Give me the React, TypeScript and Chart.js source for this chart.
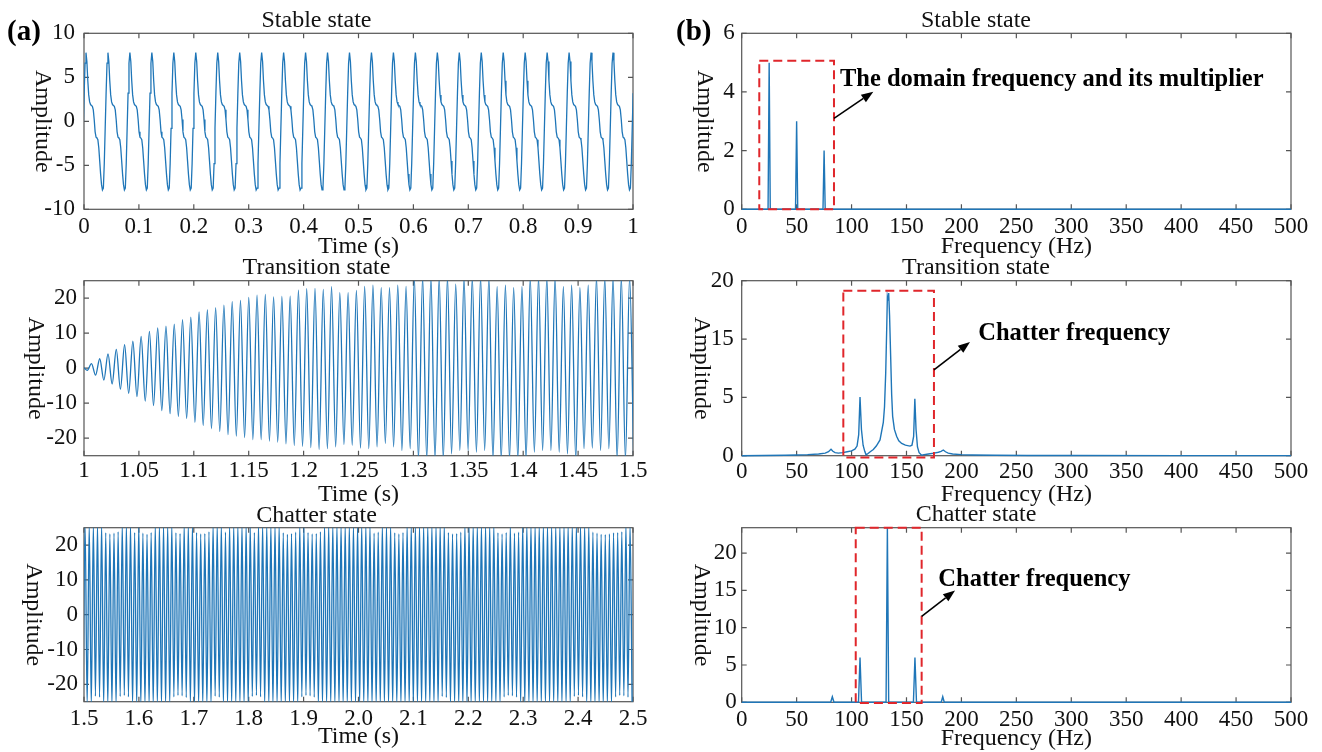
import React, { useEffect, useRef } from "react";
import { Chart, registerables } from "chart.js";

Chart.register(...registerables);

const FONT = "'Liberation Serif', 'Times New Roman', serif";
const LINE_COLOR = "#1f76b8";
const FRAME_COLOR = "#555555";
const BOX_COLOR = "#e0262b";
const TEXT_COLOR = "#111111";

// ---------------- (a) Stable state, time domain ----------------
const stablePeriod = 0.04; // s
const stableFirstPeak = 0.0036; // s
// one period of the signal (24 samples, starting at a peak)
const stableCycle = [
  7.8, 6.8, 4.6, 3.0, 2.2, 1.9, 1.8, 1.7, 1.3, 0.2, -1.2, -1.8,
  -1.9, -2.1, -3.0, -4.5, -6.0, -7.2, -7.8, -7.6, -4.8, -0.8, 3.2, 6.6,
];
const stableTimeTicks = [0, 0.1, 0.2, 0.3, 0.4, 0.5, 0.6, 0.7, 0.8, 0.9, 1];
const stableTimeLabels = ["0", "0.1", "0.2", "0.3", "0.4", "0.5", "0.6", "0.7", "0.8", "0.9", "1"];
const stableAmpTicks = [-10, -5, 0, 5, 10];
const stableAmpLabels = ["-10", "-5", "0", "5", "10"];

// ---------------- (a) Transition state, time domain ----------------
const transitionStart = { t: 1.0, v: 0.1 };
const transitionPeriod = 0.00754;
const transitionFirstTrough = 1.003;
const transitionFirstPeak = 1.0068;
const transitionPeaks = [
  1.3, 2.7, 4.1, 5.4, 6.7, 7.7, 9.1, 10.5, 11.5, 12.0, 12.6, 13.9, 14.6, 16.1, 16.7,
  17.3, 18.0, 19.0, 19.4, 20.2, 20.9, 21.1, 20.4, 20.5, 20.6, 22.3, 22.7, 22.8, 22.5,
  23.3, 21.6, 21.6, 22.2, 23.4, 23.7, 23.0, 23.0, 23.7, 23.4,
  26, 26, 26, 26, 26, 24.0, 26, 26, 26, 26,
  23.3, 23.7, 23.0, 23.3, 26, 26, 26, 26,
  23.3, 23.7, 23.0, 23.7, 26, 26, 26, 26, 26,
];
const transitionTroughs = [
  -0.6, -2.0, -3.4, -4.5, -6.0, -7.2, -8.1, -9.4, -10.7, -12.1, -13.0, -13.8, -14.4, -15.5,
  -16.4, -17.3, -18.1, -19.0, -19.4, -19.8, -20.4, -20.4, -20.8, -21.1, -21.6, -22.1, -22.3,
  -22.7, -23.2, -23.0,
  -22.5, -21.8, -22.0, -22.8, -23.0, -22.5, -21.5, -22.5, -23.5, -23.0,
  -26, -26, -26, -26, -24.5, -23.5, -23.5, -24.0, -23.5,
  -26, -26, -26, -26, -26, -24.0, -23.5, -23.5, -24.0, -24.5,
  -26, -23.0, -22.8, -23.5, -23.0, -26, -26,
  -26,
];
const transitionTimeTicks = [1, 1.05, 1.1, 1.15, 1.2, 1.25, 1.3, 1.35, 1.4, 1.45, 1.5];
const transitionTimeLabels = ["1", "1.05", "1.1", "1.15", "1.2", "1.25", "1.3", "1.35", "1.4", "1.45", "1.5"];
const bigAmpTicks = [-20, -10, 0, 10, 20];
const bigAmpLabels = ["-20", "-10", "0", "10", "20"];

// ---------------- (a) Chatter state, time domain ----------------
const chatterLead = { t: 1.4982, v: -26 };
const chatterPeriod = 0.00752;
const chatterFirstPeak = 1.502;
const chatterPeaks = [
  26, 26, 26, 26, 26,
  23.5, 23.2, 23.4, 23.8,
  26, 26, 26,
  23.6,
  26,
  23.4, 23.1, 23.6,
  26, 26, 26, 26, 26,
  23.5, 23.3,
  26, 26, 26,
  23.6, 23.2, 23.3, 23.8,
  26, 26, 26,
  23.7,
  26, 26, 26, 26, 26, 26,
  23.6,
  26, 26, 26, 26, 26, 26,
  23.5, 23.1, 23.3, 23.7,
  26, 26,
  23.6, 23.2, 23.3, 23.8,
  26, 26, 26, 26, 26, 26, 26, 26, 26, 26, 26, 26,
  23.4, 23.7,
  26, 26, 26,
  23.5, 23.2, 23.6,
  26, 26, 26, 26, 26, 26, 26, 26, 26, 26,
  23.6, 23.2, 23.3, 23.7,
  26, 26, 26, 26, 26, 26, 26, 26,
  23.5, 23.2, 23.6,
  26,
  23.4, 23.7,
  26, 26, 26, 26, 26, 26, 26, 26, 26, 26, 26, 26, 26, 26, 26, 26, 26,
  23.7, 23.4, 23.1, 23.0, 23.2, 23.5, 23.6, 23.8,
  26, 26,
];
const chatterTroughs = [
  -26, -26,
  -23.4, -23.7,
  -26, -26, -26, -26,
  -23.5, -23.2, -23.6,
  -26, -26, -26, -26, -26, -26, -26, -26, -26, -26,
  -23.6, -23.2, -23.3, -23.8,
  -26, -26, -26, -26, -26, -26,
  -23.4, -23.7,
  -26, -26, -26, -26, -26, -26, -26,
  -23.5, -23.2, -23.6,
  -26, -26, -26, -26, -26, -26, -26, -26, -26,
  -23.6, -23.2, -23.3, -23.7,
  -26, -26, -26, -26, -26, -26, -26, -26, -26, -26,
  -26, -26, -26, -26, -26, -26, -26, -26, -26, -26,
  -26, -26, -26, -26, -26, -26, -26, -26, -26, -26,
  -23.5, -23.8,
  -26, -26, -26, -26, -26, -26, -26, -26, -26, -26, -26, -26, -26,
  -23.6, -23.2, -23.3, -23.7,
  -26, -26, -26, -26, -26, -26, -26, -26, -26, -26, -26, -26, -26,
  -23.5, -23.2, -23.6,
  -26, -26, -26, -26, -26, -26, -26,
  -23.6, -23.2, -23.3, -23.7,
  -26,
];
const chatterTimeTicks = [1.5, 1.6, 1.7, 1.8, 1.9, 2.0, 2.1, 2.2, 2.3, 2.4, 2.5];
const chatterTimeLabels = ["1.5", "1.6", "1.7", "1.8", "1.9", "2.0", "2.1", "2.2", "2.3", "2.4", "2.5"];

// ---------------- (b) Spectra ----------------
const freqTicks = [0, 50, 100, 150, 200, 250, 300, 350, 400, 450, 500];
const freqLabels = ["0", "50", "100", "150", "200", "250", "300", "350", "400", "450", "500"];

const stableFreq = [0, 24, 25, 26, 49, 50, 51, 74, 75, 76, 500];
const stableAmp = [0, 0, 5.0, 0, 0, 3.0, 0, 0, 2.0, 0, 0];
const stableSpecTicks = [0, 2, 4, 6];
const stableSpecLabels = ["0", "2", "4", "6"];

const transFreq = [
  0, 20, 40, 50, 60, 70, 76, 79, 81.3, 83, 85, 88, 92, 96, 100, 103, 105, 106.5, 107.7, 109,
  110.5, 112, 113.2, 115, 117, 119.8, 122.5, 125.9, 128.9, 130, 131.1, 132.1, 132.6, 133.2,
  133.8, 134.6, 135.6, 136.5, 137.4, 139, 141.1, 143, 145.6, 149, 153.2, 155, 156.5, 157.6,
  158.7, 160, 161.5, 163.8, 166, 170, 175, 179, 181.5, 183.5, 185.5, 188, 192, 200, 210, 230,
  260, 300, 400, 500,
];
const transAmp = [
  0, 0.02, 0.05, 0.08, 0.12, 0.2, 0.3, 0.45, 0.73, 0.5, 0.35, 0.3, 0.35, 0.45, 0.55, 0.75, 1.1,
  2.4, 6.7, 3.0, 1.2, 0.5, 0.1, 0.25, 0.45, 0.7, 1.1, 1.8, 3.8, 5.6, 9.5, 15.1, 18.2, 17.8,
  18.6, 16.0, 11.3, 7.0, 4.5, 3.0, 2.2, 1.7, 1.4, 1.2, 1.1, 1.2, 2.2, 6.5, 3.0, 1.0, 0.35,
  0.05, 0.12, 0.2, 0.3, 0.4, 0.5, 0.65, 0.45, 0.3, 0.2, 0.12, 0.08, 0.05, 0.03, 0.02, 0.01,
  0.01,
];
const transSpecTicks = [0, 6.667, 13.333, 20];
const transSpecLabels = ["0", "5", "15", "20"];

const chatterFreq = [0, 81, 82.5, 84, 106.3, 107.7, 109.1, 131.4, 132.6, 133.8, 156.3, 157.7, 159.1, 181.6, 183, 184.4, 500];
const chatterAmp = [0, 0, 0.75, 0, 0, 6.0, 0, 0, 23.4, 0, 0, 6.0, 0, 0, 0.75, 0, 0];
const chatterSpecTicks = [0, 5, 10, 15, 20];
const chatterSpecLabels = ["0", "5", "10", "15", "20"];

// annotations (data coordinates): box [x1, x2, y1, y2], arrow [x1, y1, x2, y2], text position [x, y]
const stableBox = [16, 84, 0, 5.06];
const stableArrow = [84, 3.1, 119.8, 4.01];
const stableNoteAt = [89.5, 4.41];
const transBox = [92.5, 175, -0.2, 18.86];
const transArrow = [175, 9.8, 207.8, 13.0];
const transNoteAt = [215.3, 14.0];
const chatterBox = [103.8, 163.8, -0.1, 23.4];
const chatterArrow = [163.8, 11.5, 194.2, 15.0];
const chatterNoteAt = [179, 16.4];

// ---------------- series builders ----------------
function buildStable() {
  const pts: any[] = [];
  for (let k = -1; k < 25; k++) {
    for (let j = 0; j < stableCycle.length; j++) {
      pts.push({ x: stableFirstPeak + (k + j / stableCycle.length) * stablePeriod, y: stableCycle[j] });
    }
  }
  pts.push({ x: stableFirstPeak + 25 * stablePeriod, y: stableCycle[0] });
  return pts;
}
function buildTransition() {
  const pts: any[] = [{ x: transitionStart.t, y: transitionStart.v }];
  for (let i = 0; i < transitionTroughs.length; i++) {
    pts.push({ x: transitionFirstTrough + i * transitionPeriod, y: transitionTroughs[i] });
    if (i < transitionPeaks.length) pts.push({ x: transitionFirstPeak + i * transitionPeriod, y: transitionPeaks[i] });
  }
  return pts;
}
function buildChatter() {
  const pts: any[] = [{ x: chatterLead.t, y: chatterLead.v }];
  for (let i = 0; i < chatterPeaks.length; i++) {
    pts.push({ x: chatterFirstPeak + i * chatterPeriod, y: chatterPeaks[i] });
    pts.push({ x: chatterFirstPeak + (i + 0.5) * chatterPeriod, y: chatterTroughs[i] });
  }
  return pts;
}
function zipXY(xs: number[], ys: number[]) {
  return xs.map((x, i) => ({ x, y: ys[i] }));
}

// ---------------- panel layout (page pixels) ----------------
const TITLE_SIZE = 24;
const TICK_SIZE = 23;
const LABEL_SIZE = 24;

const PANELS: any[] = [
  {
    col: 0, plot: [84, 33.3, 633, 209.3], titleY: 20.7, tickY: 226.5, xTitleY: 246.5, yTitleX: 42, yPad: 9,
    title: "Stable state", xTitle: "Time (s)", xRange: [0, 1], yRange: [-10, 10],
    xTicks: stableTimeTicks, xLabels: stableTimeLabels, yTicks: stableAmpTicks, yLabels: stableAmpLabels,
    series: buildStable, smooth: false, spectrum: false, tag: { text: "(a)", x: 7, y: 33 },
  },
  {
    col: 0, plot: [84, 280.7, 633, 455.7], titleY: 268, tickY: 471, xTitleY: 495, yTitleX: 35, yPad: 7,
    title: "Transition state", xTitle: "Time (s)", xRange: [1, 1.5], yRange: [-25, 25],
    xTicks: transitionTimeTicks, xLabels: transitionTimeLabels, yTicks: bigAmpTicks, yLabels: bigAmpLabels,
    series: buildTransition, smooth: true, spectrum: false,
  },
  {
    col: 0, plot: [84, 527.7, 633, 701.7], titleY: 516, tickY: 718.5, xTitleY: 737, yTitleX: 33, yPad: 6,
    title: "Chatter state", xTitle: "Time (s)", xRange: [1.5, 2.5], yRange: [-25, 25],
    xTicks: chatterTimeTicks, xLabels: chatterTimeLabels, yTicks: bigAmpTicks, yLabels: bigAmpLabels,
    series: buildChatter, smooth: true, spectrum: false,
  },
  {
    col: 661, plot: [741.7, 33.3, 1291, 209.3], titleY: 20.7, tickY: 226.5, xTitleY: 246.5, yTitleX: 704, yPad: 7,
    title: "Stable state", xTitle: "Frequency (Hz)", xRange: [0, 500], yRange: [0, 6],
    xTicks: freqTicks, xLabels: freqLabels, yTicks: stableSpecTicks, yLabels: stableSpecLabels,
    series: () => zipXY(stableFreq, stableAmp), smooth: false, spectrum: true, tag: { text: "(b)", x: 676, y: 33 },
    note: { box: stableBox, arrow: stableArrow, at: stableNoteAt, text: "The domain frequency and its multiplier" },
  },
  {
    col: 661, plot: [741.7, 280.7, 1291, 455.7], titleY: 267.5, tickY: 471.5, xTitleY: 495, yTitleX: 701, yPad: 8,
    title: "Transition state", xTitle: "Frequency (Hz)", xRange: [0, 500], yRange: [0, 20],
    xTicks: freqTicks, xLabels: freqLabels, yTicks: transSpecTicks, yLabels: transSpecLabels,
    series: () => zipXY(transFreq, transAmp), smooth: false, spectrum: true,
    note: { box: transBox, arrow: transArrow, at: transNoteAt, text: "Chatter frequency" },
  },
  {
    col: 661, plot: [741.7, 527.7, 1291, 702.3], titleY: 515, tickY: 719.5, xTitleY: 739, yTitleX: 701, yPad: 5,
    title: "Chatter state", xTitle: "Frequency (Hz)", xRange: [0, 500], yRange: [0, 23.4],
    xTicks: freqTicks, xLabels: freqLabels, yTicks: chatterSpecTicks, yLabels: chatterSpecLabels,
    series: () => zipXY(chatterFreq, chatterAmp), smooth: false, spectrum: true,
    note: { box: chatterBox, arrow: chatterArrow, at: chatterNoteAt, text: "Chatter frequency" },
  },
];

function computeGeom(p: any) {
  const [pl, pt, pr, pb] = p.plot;
  const cx = (pl + pr) / 2;
  const canvasLeft = p.col;
  const width = Math.round(2 * (cx - canvasLeft));
  const titleLH = TITLE_SIZE * 0.8;
  const canvasTop = Math.floor(p.titleY - titleLH / 2);
  const titlePadTop = p.titleY - titleLH / 2 - canvasTop;
  const titlePadBottom = pt - canvasTop - titleLH - titlePadTop;
  const xTickPad = p.tickY - pb - TICK_SIZE / 2;
  const xAxisH = p.xTitleY + LABEL_SIZE / 2 - pb;
  const contentBottom = pb + xAxisH - canvasTop;
  const height = Math.ceil(contentBottom);
  return {
    canvasLeft, canvasTop, width, height,
    padRight: width - (pr - canvasLeft), padBottom: height - contentBottom,
    yAxisW: pl - canvasLeft, titlePadTop, titlePadBottom, xTickPad, xAxisH,
  };
}

function drawArrow(ctx: CanvasRenderingContext2D, x1: number, y1: number, x2: number, y2: number) {
  const ang = Math.atan2(y2 - y1, x2 - x1);
  const head = 12;
  const hw = 4.5;
  const bx = x2 - head * Math.cos(ang);
  const by = y2 - head * Math.sin(ang);
  ctx.beginPath();
  ctx.moveTo(x1, y1);
  ctx.lineTo(bx, by);
  ctx.stroke();
  ctx.beginPath();
  ctx.moveTo(x2, y2);
  ctx.lineTo(bx + hw * Math.sin(ang), by - hw * Math.cos(ang));
  ctx.lineTo(bx - hw * Math.sin(ang), by + hw * Math.cos(ang));
  ctx.closePath();
  ctx.fill();
}

function PanelChart({ p }: { p: any }) {
  const ref = useRef<HTMLCanvasElement>(null);
  const g = computeGeom(p);
  useEffect(() => {
    const canvas = ref.current;
    if (!canvas) return;
    const framePlugin = {
      id: "matlabFrame",
      beforeDatasetsDraw(chart: any) {
        const { ctx, chartArea: a, scales } = chart;
        ctx.save();
        ctx.strokeStyle = FRAME_COLOR;
        ctx.lineWidth = 1.2;
        ctx.strokeRect(a.left, a.top, a.right - a.left, a.bottom - a.top);
        const tl = 5;
        ctx.beginPath();
        for (const t of scales.x.ticks) {
          const px = scales.x.getPixelForValue(t.value);
          ctx.moveTo(px, a.bottom);
          ctx.lineTo(px, a.bottom - tl);
          ctx.moveTo(px, a.top);
          ctx.lineTo(px, a.top + tl);
        }
        for (const t of scales.y.ticks) {
          const py = scales.y.getPixelForValue(t.value);
          ctx.moveTo(a.left, py);
          ctx.lineTo(a.left + tl, py);
          ctx.moveTo(a.right, py);
          ctx.lineTo(a.right - tl, py);
        }
        ctx.stroke();
        ctx.restore();
      },
      afterDraw(chart: any) {
        const { ctx, chartArea: a, scales } = chart;
        ctx.save();
        ctx.fillStyle = TEXT_COLOR;
        ctx.font = `${LABEL_SIZE}px ${FONT}`;
        ctx.textAlign = "center";
        ctx.textBaseline = "middle";
        ctx.translate(p.yTitleX - g.canvasLeft, (a.top + a.bottom) / 2);
        ctx.rotate(Math.PI / 2);
        ctx.fillText("Amplitude", 0, 0);
        ctx.restore();
        if (p.tag) {
          ctx.save();
          ctx.fillStyle = "#000";
          ctx.font = `bold 29px ${FONT}`;
          ctx.textAlign = "left";
          ctx.textBaseline = "middle";
          ctx.fillText(p.tag.text, p.tag.x - g.canvasLeft, p.tag.y - g.canvasTop);
          ctx.restore();
        }
        if (p.note) {
          const n = p.note;
          const X = (v: number) => scales.x.getPixelForValue(v);
          const Y = (v: number) => scales.y.getPixelForValue(v);
          ctx.save();
          ctx.strokeStyle = BOX_COLOR;
          ctx.lineWidth = 2;
          ctx.setLineDash([9, 5]);
          const bx1 = X(n.box[0]), bx2 = X(n.box[1]), by1 = Y(n.box[2]), by2 = Y(n.box[3]);
          ctx.strokeRect(bx1, by2, bx2 - bx1, by1 - by2);
          ctx.setLineDash([]);
          ctx.strokeStyle = "#000";
          ctx.fillStyle = "#000";
          ctx.lineWidth = 1.6;
          drawArrow(ctx, X(n.arrow[0]), Y(n.arrow[1]), X(n.arrow[2]), Y(n.arrow[3]));
          ctx.font = `bold 24.5px ${FONT}`;
          ctx.textAlign = "left";
          ctx.textBaseline = "middle";
          ctx.fillText(n.text, X(n.at[0]), Y(n.at[1]));
          ctx.restore();
        }
      },
    };
    const tickFont = { family: FONT, size: TICK_SIZE, lineHeight: 1 };
    const chart = new Chart(canvas, {
      type: "line",
      data: {
        datasets: [
          {
            data: p.series(),
            borderColor: LINE_COLOR,
            borderWidth: p.spectrum ? 1.4 : 1.3,
            pointRadius: 0,
            fill: false,
            tension: 0,
            cubicInterpolationMode: p.smooth ? "monotone" : "default",
            clip: p.spectrum ? { left: 0, top: 1, right: 0, bottom: 2 } : 0,
          } as any,
        ],
      },
      options: {
        responsive: false,
        animation: false,
        devicePixelRatio: 1,
        parsing: false,
        normalized: true,
        events: [],
        layout: { padding: { left: 0, right: g.padRight, top: 0, bottom: g.padBottom } },
        plugins: {
          legend: { display: false },
          tooltip: { enabled: false },
          title: {
            display: true,
            text: p.title,
            color: TEXT_COLOR,
            font: { family: FONT, size: TITLE_SIZE, weight: "normal", lineHeight: 0.8 },
            padding: { top: g.titlePadTop, bottom: g.titlePadBottom },
          },
        },
        scales: {
          x: {
            type: "linear",
            min: p.xRange[0],
            max: p.xRange[1],
            grid: { display: false, drawTicks: false },
            border: { display: false },
            ticks: {
              autoSkip: false,
              maxRotation: 0,
              minRotation: 0,
              padding: g.xTickPad,
              color: TEXT_COLOR,
              font: tickFont,
              callback: (_v: any, i: number) => p.xLabels[i],
            },
            afterBuildTicks: (s: any) => {
              s.ticks = p.xTicks.map((v: number) => ({ value: v }));
            },
            afterFit: (s: any) => {
              s.height = g.xAxisH;
            },
            title: {
              display: true,
              text: p.xTitle,
              color: TEXT_COLOR,
              font: { family: FONT, size: LABEL_SIZE, lineHeight: 1 },
              padding: 0,
            },
          },
          y: {
            type: "linear",
            min: p.yRange[0],
            max: p.yRange[1],
            grid: { display: false, drawTicks: false },
            border: { display: false },
            ticks: {
              autoSkip: false,
              padding: p.yPad,
              color: TEXT_COLOR,
              font: tickFont,
              callback: (_v: any, i: number) => p.yLabels[i],
            },
            afterBuildTicks: (s: any) => {
              s.ticks = p.yTicks.map((v: number) => ({ value: v }));
            },
            afterFit: (s: any) => {
              s.width = g.yAxisW;
            },
            title: { display: false },
          },
        },
      } as any,
      plugins: [framePlugin],
    });
    return () => chart.destroy();
  }, []);
  return (
    <canvas
      ref={ref}
      width={g.width}
      height={g.height}
      style={{ position: "absolute", left: g.canvasLeft, top: g.canvasTop, width: g.width, height: g.height }}
    />
  );
}

export default function App() {
  return (
    <div
      style={{
        position: "fixed",
        left: 0,
        top: 0,
        width: 1322,
        height: 752,
        overflow: "hidden",
        background: "#ffffff",
      }}
    >
      {PANELS.map((p, i) => (
        <PanelChart key={i} p={p} />
      ))}
    </div>
  );
}
